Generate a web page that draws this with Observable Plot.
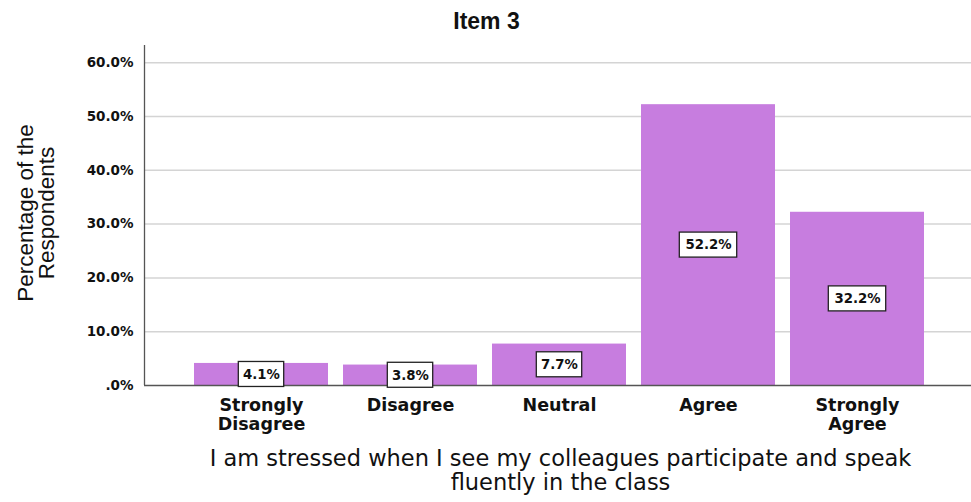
<!DOCTYPE html>
<html>
<head>
<meta charset="utf-8">
<script src="https://cdn.jsdelivr.net/npm/d3@7"></script>
<script src="https://cdn.jsdelivr.net/npm/@observablehq/plot@0.6"></script>
<style>
  html, body { margin: 0; padding: 0; background: #fff; }
</style>
</head>
<body>
<div id="chart"></div>
<script>
const categories = ["Strongly\nDisagree", "Disagree", "Neutral", "Agree", "Strongly\nAgree"];
const values = [4.1, 3.8, 7.7, 52.2, 32.2];
const yTicks = [0, 10, 20, 30, 40, 50, 60];
const yTickLabels = [".0%", "10.0%", "20.0%", "30.0%", "40.0%", "50.0%", "60.0%"];
const title = "Item 3";
const yLabel = "Percentage of the\nRespondents";
const xLabel = "I am stressed when I see my colleagues participate and speak\nfluently in the class";

const data = categories.map((c, i) => ({category: c, value: values[i], label: values[i].toFixed(1) + "%"}));
const barColor = "#c77ddf";
const boldFont = "'DejaVu Sans', Verdana, sans-serif";
const arialFont = "'Liberation Sans', Arial, sans-serif";

const W = 971, H = 502, ML = 144, MR = 0;
const frameCenterX = (ML + W - MR) / 2;
const bw = 134.6;
const boxMark = (n, w) => Plot.rect(data.filter(d => d.label.length === n), {
  x: "category", y1: d => d.value / 2, y2: d => d.value / 2,
  insetTop: -12.5, insetBottom: -12.5,
  insetLeft: (bw - w) / 2, insetRight: (bw - w) / 2,
  fill: "white", stroke: "#222", strokeWidth: 1.3
});

const chart = Plot.plot({
  width: W, height: H,
  marginLeft: ML, marginRight: MR, marginTop: 45, marginBottom: 117,
  style: {fontFamily: boldFont, background: "white"},
  x: {domain: categories, padding: 0.1, insetLeft: 34, insetRight: 30, axis: null},
  y: {domain: [0, 63.2], axis: null},
  marks: [
    Plot.ruleY(yTicks.filter(t => t > 0), {stroke: "#d4d4d4", strokeWidth: 1.5}),
    Plot.barY(data, {x: "category", y: "value", fill: barColor}),
    Plot.ruleY([0], {stroke: "#555", strokeWidth: 1.3}),
    Plot.ruleX([0], {x: null, y1: 0, y2: 63.2, dx: ML - frameCenterX, stroke: "#555", strokeWidth: 1.3}),
    Plot.axisY(yTicks, {tickFormat: (d, i) => yTickLabels[i], tickSize: 0, tickPadding: 11, fontSize: 13.5, fontWeight: "bold", fontFamily: boldFont, fill: "#111", label: null}),
    Plot.axisX({tickSize: 0, tickPadding: 12.5, fontSize: 17.5, fontWeight: "bold", fontFamily: boldFont, fill: "#111", label: null, lineHeight: 1.08}),
    boxMark(4, 46),
    boxMark(5, 58),
    Plot.text(data, {x: "category", y: d => d.value / 2, text: "label", fontSize: 13.3, fontWeight: "bold", fontFamily: boldFont, fill: "#111"}),
    Plot.text([title], {frameAnchor: "top", lineAnchor: "middle", dy: -24, dx: 486 - frameCenterX, text: d => d, fontSize: 23, fontWeight: "bold", fontFamily: arialFont, fill: "#111"}),
    Plot.text([yLabel], {frameAnchor: "left", dx: -108, dy: -2.5, textAnchor: "middle", lineAnchor: "middle", text: d => d, rotate: -90, fontSize: 22.5, fontFamily: arialFont, fill: "#111", lineHeight: 0.93}),
    Plot.text([xLabel], {frameAnchor: "bottom", lineAnchor: "top", dy: 64, dx: 560 - frameCenterX, text: d => d, fontSize: 22.5, fontFamily: "'DejaVu Sans', sans-serif", fill: "#111", lineHeight: 1.05})
  ]
});
document.getElementById("chart").appendChild(chart);
</script>
</body>
</html>
